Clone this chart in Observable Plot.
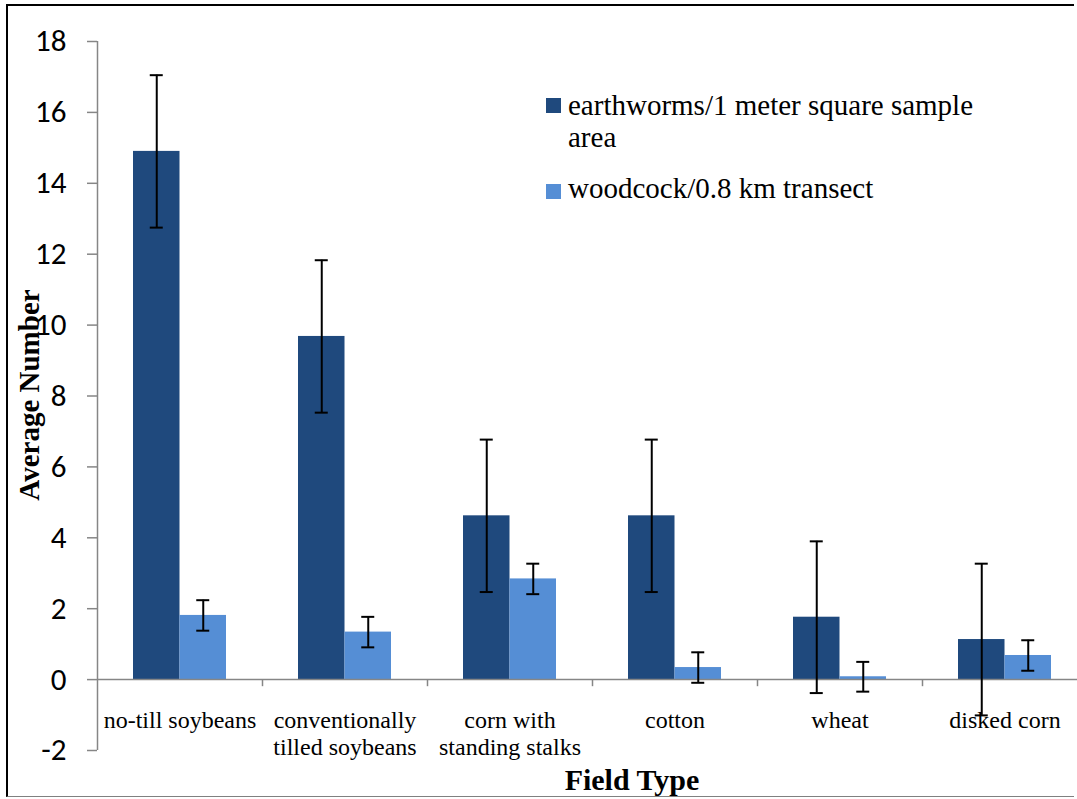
<!DOCTYPE html>
<html>
<head>
<meta charset="utf-8">
<script src="https://cdn.jsdelivr.net/npm/d3@7"></script>
<script src="https://cdn.jsdelivr.net/npm/@observablehq/plot@0.6"></script>
<style>
  html, body { margin: 0; padding: 0; background: white; }
  #wrap { position: relative; width: 1077px; height: 799px; overflow: hidden; }
  #frame { position: absolute; left: 6px; top: 4px; width: 1068px; height: 793px;
           border-left: 2px solid black; border-top: 2px solid black; border-bottom: 1px solid #808080; box-sizing: border-box; }
  .legend { position: absolute; left: 546px; top: 0; font-family: 'Liberation Serif'; font-size: 29px; line-height: 32px; color: black; }
  .legend .sw { position: absolute; left: 0; width: 15px; height: 15px; }
  .legend .tx { position: absolute; left: 22px; white-space: nowrap; font-family: 'Liberation Serif'; }
  .title { position: absolute; font-family: 'Liberation Serif'; font-weight: bold; color: black; white-space: nowrap; }
</style>
</head>
<body>
<div id="wrap">
  <div id="chart"></div>
  <div id="frame"></div>
  <div class="legend">
    <div class="sw" style="top:98px;background:#1F497D"></div>
    <div class="tx" style="top:89px">earthworms/1 meter square sample<br>area</div>
    <div class="sw" style="top:184px;background:#558ED5"></div>
    <div class="tx" style="top:172px">woodcock/0.8 km transect</div>
  </div>
  <div class="title" style="left:632px;top:780px;font-size:30px;transform:translate(-50%,-50%)">Field Type</div>
  <div class="title" style="left:29px;top:395px;font-size:29px;transform:translate(-50%,-50%) rotate(-90deg)">Average Number</div>
</div>
<script>
const categories = ["no-till soybeans", "conventionally tilled soybeans", "corn with standing stalks", "cotton", "wheat", "disked corn"];
const categoryLabels = ["no-till soybeans", "conventionally\ntilled soybeans", "corn with\nstanding stalks", "cotton", "wheat", "disked corn"];
const earthworms = [14.9, 9.68, 4.62, 4.62, 1.76, 1.13];
const earthwormsErr = [2.15, 2.15, 2.15, 2.15, 2.14, 2.14];
const woodcock = [1.81, 1.34, 2.84, 0.34, 0.08, 0.68];
const woodcockErr = [0.43, 0.43, 0.43, 0.43, 0.42, 0.43];
const yTicks = [-2, 0, 2, 4, 6, 8, 10, 12, 14, 16, 18];

const DARK = "#1F497D", LIGHT = "#558ED5", AXIS = "#868686";

const rows = categories.map((c, i) => ({
  category: c, label: categoryLabels[i],
  worms: earthworms[i], wormsErr: earthwormsErr[i],
  wood: woodcock[i], woodErr: woodcockErr[i]
}));

// band = 165px; bars 46.5px each, group of 93px centered
const chart = Plot.plot({
  width: 1077, height: 799,
  marginLeft: 97, marginRight: -10, marginTop: 41, marginBottom: 49,
  style: {fontFamily: "Liberation Serif"},
  x: {type: "band", domain: categories, padding: 0, axis: null},
  y: {domain: [-2, 18], axis: null},
  marks: [
    Plot.barY(rows, {x: "category", y: "worms", fill: DARK, insetLeft: 36, insetRight: 82.5}),
    Plot.barY(rows, {x: "category", y: "wood", fill: LIGHT, insetLeft: 82.5, insetRight: 36}),
    Plot.ruleY([0], {stroke: AXIS, strokeWidth: 1.5}),
    // y axis line at the left edge of the first band
    Plot.ruleX([categories[0]], {x: d => d, dx: -82.5, y1: -2, y2: 18, stroke: AXIS, strokeWidth: 1.5}),
    // category boundary ticks below the zero line
    Plot.ruleX(categories.slice(1), {x: d => d, dx: -82.5, y1: 0, y2: -0.2, stroke: AXIS, strokeWidth: 1.5}),
    Plot.axisY({ticks: yTicks, tickFormat: d => String(d), tickSize: 10, tickPadding: 21,
      stroke: AXIS, strokeWidth: 1.5, fill: "black", fontSize: 31, fontFamily: "Carlito", label: null}),
    // error bars
    Plot.ruleX(rows, {x: "category", y1: d => d.worms - d.wormsErr, y2: d => d.worms + d.wormsErr, dx: -23.25, stroke: "black", strokeWidth: 2}),
    Plot.tickY(rows, {x: "category", y: d => d.worms + d.wormsErr, insetLeft: 52.75, insetRight: 99.25, stroke: "black", strokeWidth: 2}),
    Plot.tickY(rows, {x: "category", y: d => d.worms - d.wormsErr, insetLeft: 52.75, insetRight: 99.25, stroke: "black", strokeWidth: 2}),
    Plot.ruleX(rows, {x: "category", y1: d => d.wood - d.woodErr, y2: d => d.wood + d.woodErr, dx: 23.25, stroke: "black", strokeWidth: 2}),
    Plot.tickY(rows, {x: "category", y: d => d.wood + d.woodErr, insetLeft: 99.25, insetRight: 52.75, stroke: "black", strokeWidth: 2}),
    Plot.tickY(rows, {x: "category", y: d => d.wood - d.woodErr, insetLeft: 99.25, insetRight: 52.75, stroke: "black", strokeWidth: 2}),
    // category labels
    Plot.text(rows, {x: "category", frameAnchor: "bottom", text: "label", lineAnchor: "top", dy: -42,
      lineHeight: 1.125, fontSize: 24, fontFamily: "Liberation Serif", fill: "black"})
  ]
});
document.getElementById("chart").appendChild(chart);
</script>
</body>
</html>
